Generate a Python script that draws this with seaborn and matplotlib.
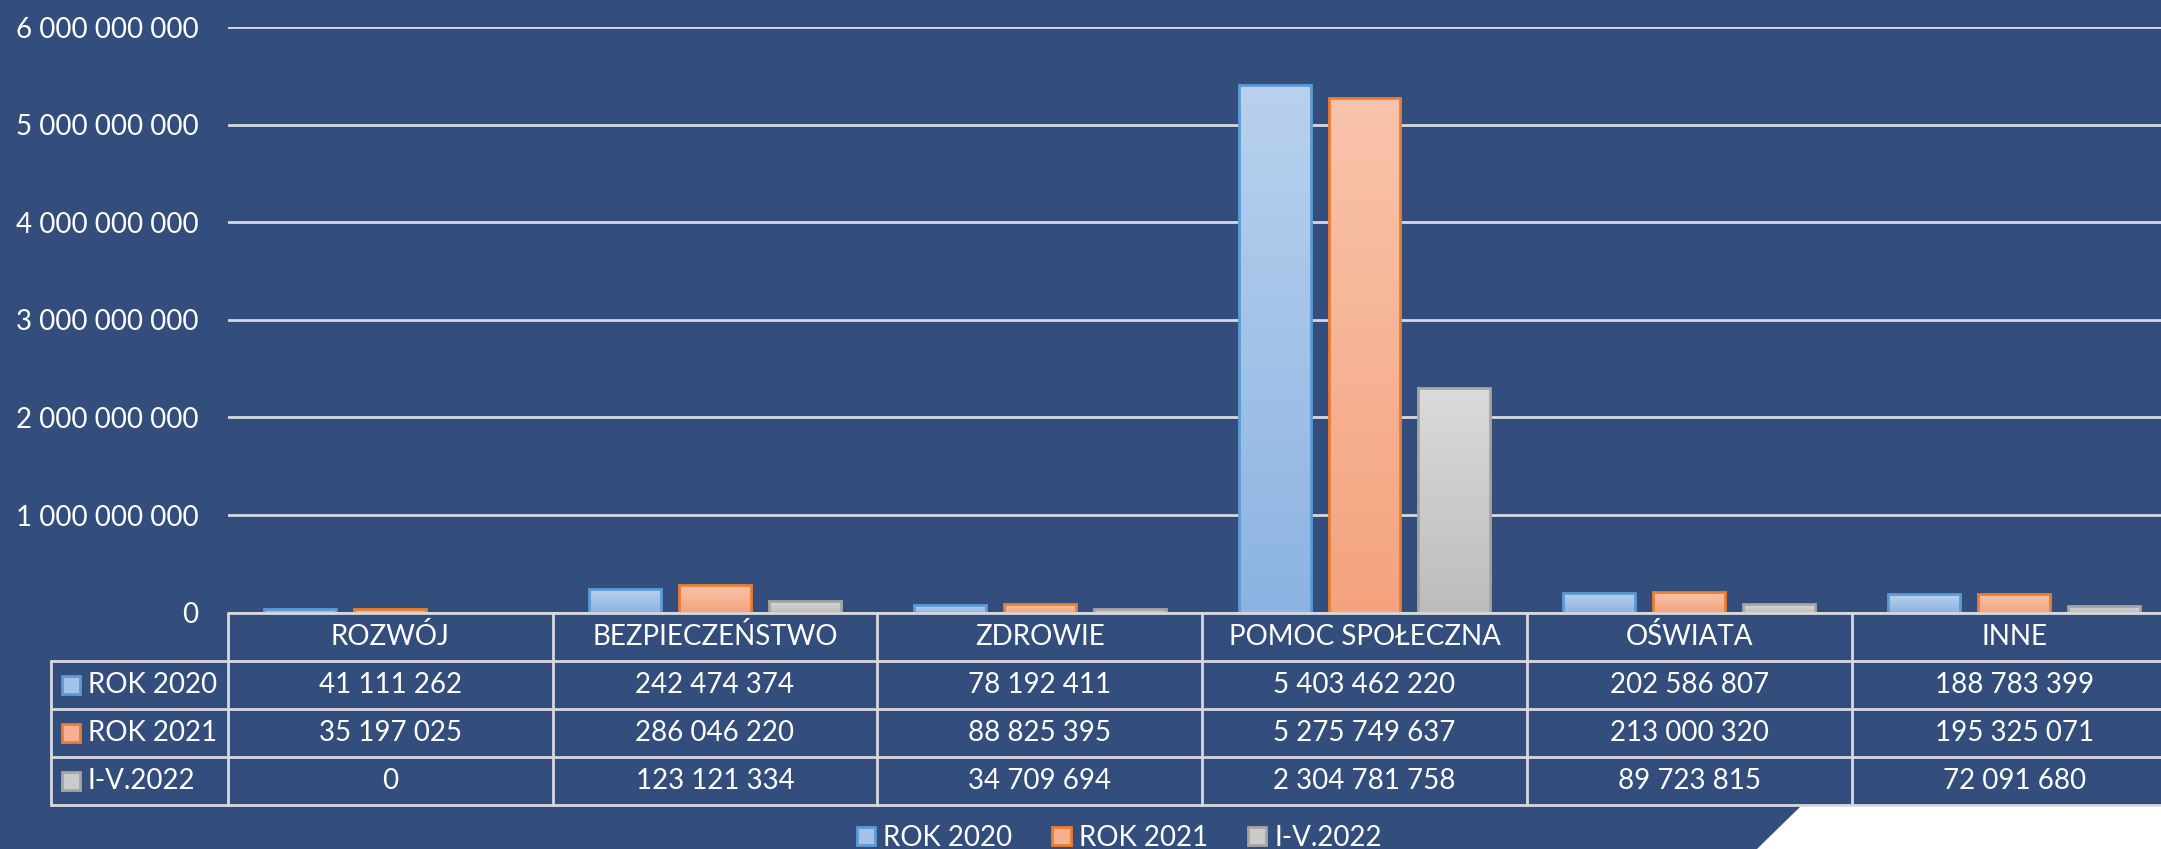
import numpy as np
import pandas as pd
import matplotlib
matplotlib.use("Agg")
import matplotlib.pyplot as plt
import matplotlib.transforms as mtransforms
from matplotlib.patches import Patch, Polygon, Rectangle
from matplotlib.lines import Line2D
from matplotlib.colors import LinearSegmentedColormap
import seaborn as sns

# ---------------- data ----------------
categories = ["ROZWÓJ", "BEZPIECZEŃSTWO", "ZDROWIE", "POMOC SPOŁECZNA", "OŚWIATA", "INNE"]
series = ["ROK 2020", "ROK 2021", "I-V.2022"]
rok_2020 = [41111262, 242474374, 78192411, 5403462220, 202586807, 188783399]
rok_2021 = [35197025, 286046220, 88825395, 5275749637, 213000320, 195325071]
i_v_2022 = [0, 123121334, 34709694, 2304781758, 89723815, 72091680]
y_ticks = [0, 1000000000, 2000000000, 3000000000, 4000000000, 5000000000, 6000000000]

values = [rok_2020, rok_2021, i_v_2022]

# ---------------- style ----------------
BG = "#334d7c"
GRID = "#d6d9df"
mid_cols = ["#a3c2e8", "#f6b193", "#cbcbcb"]
top_cols = ["#b9d1ee", "#f9c4ac", "#dbdbdb"]
bot_cols = ["#8cb3e2", "#f4a37e", "#bcbcbc"]
edge_cols = ["#5b9bd5", "#ed7d31", "#a5a5a5"]

sns.set_theme(style="white")
plt.rcParams['font.family'] = ['Lato', 'DejaVu Sans']

W, H = 2161, 849
fig = plt.figure(figsize=(W / 100, H / 100), dpi=100, facecolor=BG)

def fx(px):
    return px / W

def fy(py):
    return 1 - py / H

ax_left, ax_top, ax_bottom = 227.7, 27.0, 612.7
cat_w = 324.8
ax = fig.add_axes([fx(ax_left), fy(ax_bottom), 6 * cat_w / W, (ax_bottom - ax_top) / H])
ax.set_facecolor("none")

df = pd.DataFrame({
    "category": categories * 3,
    "series": sum([[s] * len(categories) for s in series], []),
    "value": sum(values, []),
})

sns.barplot(data=df, x="category", y="value", hue="series", order=categories,
            hue_order=series, palette=mid_cols, saturation=1, width=0.83, gap=0.2,
            linewidth=2, ax=ax, legend=False, zorder=3)

ax.set_xlim(-0.5, 5.5)
ax.set_ylim(0, 6e9)

# gradient fill + edges
grad = np.linspace(0, 1, 256).reshape(-1, 1)
for i, cont in enumerate(ax.containers):
    cmap = LinearSegmentedColormap.from_list(f"g{i}", [bot_cols[i], top_cols[i]])
    for bar in cont:
        bar.set_edgecolor(edge_cols[i])
        bar.set_linewidth(2)
        h = bar.get_height()
        if h <= 0:
            bar.set_visible(False)
            continue
        x0 = bar.get_x()
        w = bar.get_width()
        im = ax.imshow(grad, cmap=cmap, origin="lower", aspect="auto",
                       extent=[x0, x0 + w, 0, h], zorder=2.5)
        im.set_clip_path(bar)
        bar.set_facecolor("none")

ax.set_xlim(-0.5, 5.5)
ax.set_ylim(0, 6e9)

# axes formatting
ax.set_yticks(y_ticks)
ax.set_yticklabels([f"{int(v):,}".replace(",", " ") for v in y_ticks])
ax.yaxis.grid(True, color=GRID, linewidth=2)
ax.xaxis.grid(False)
ax.set_axisbelow(True)
for sp in ax.spines.values():
    sp.set_visible(False)
ax.tick_params(axis="y", length=0, pad=21, labelsize=20, labelcolor="white")
ax.tick_params(axis="x", bottom=False, labelbottom=False)
ax.set_xlabel("")
ax.set_ylabel("")

# ---------------- data table ----------------
blend = mtransforms.blended_transform_factory(ax.transData, fig.transFigure)
row_lines = [612.7, 661.0, 709.0, 757.0, 805.0]
tab_left = 50.7
lw = 2

# horizontal lines
fig.add_artist(Line2D([fx(ax_left), 1], [fy(row_lines[0])] * 2, color=GRID, lw=lw,
                      transform=fig.transFigure, zorder=5))
for yl in row_lines[1:]:
    fig.add_artist(Line2D([fx(tab_left), 1], [fy(yl)] * 2, color=GRID, lw=lw,
                          transform=fig.transFigure, zorder=5))
# vertical lines
fig.add_artist(Line2D([fx(tab_left)] * 2, [fy(row_lines[1]), fy(row_lines[-1])], color=GRID,
                      lw=lw, transform=fig.transFigure, zorder=5))
for k in range(len(categories)):
    xb = k - 0.5
    fig.add_artist(Line2D([xb, xb], [fy(row_lines[0]), fy(row_lines[-1])], color=GRID,
                          lw=lw, transform=blend, zorder=5))

FS = 20
# header
yc = fy((row_lines[0] + row_lines[1]) / 2)
for k, cat in enumerate(categories):
    fig.text(k, yc, cat, transform=blend, ha="center", va="center", color="white",
             fontsize=FS, zorder=6)
# rows
for r, s in enumerate(series):
    yc = fy((row_lines[r + 1] + row_lines[r + 2]) / 2)
    for k in range(len(categories)):
        fig.text(k, yc, f"{values[r][k]:,}".replace(",", " "), transform=blend,
                 ha="center", va="center", color="white", fontsize=FS, zorder=6)
    sq = 18
    fig.add_artist(Rectangle((fx(62), yc - sq / 2 / H), sq / W, sq / H,
                             facecolor=mid_cols[r], edgecolor=edge_cols[r], lw=2,
                             transform=fig.transFigure, zorder=6))
    fig.text(fx(88), yc, s, ha="left", va="center", color="white", fontsize=FS, zorder=6)

# ---------------- legend ----------------
handles = [Patch(facecolor=mid_cols[i], edgecolor=edge_cols[i], linewidth=2) for i in range(3)]
fig.legend(handles=handles, labels=series, loc="center", bbox_to_anchor=(0.518, 0.013),
           ncol=3, frameon=False, fontsize=FS, labelcolor="white",
           handlelength=0.65, handleheight=0.65, handletextpad=0.3, columnspacing=1.45,
           borderaxespad=0, borderpad=0)

# ---------------- white corner logo panel ----------------
fig.add_artist(Polygon([(fx(1801), fy(806)), (1, fy(806)), (1, 0), (fx(1757), 0)],
                       closed=True, facecolor="white", edgecolor="none",
                       transform=fig.transFigure, zorder=4))

fig.savefig("out.png", dpi=100, facecolor=BG)
